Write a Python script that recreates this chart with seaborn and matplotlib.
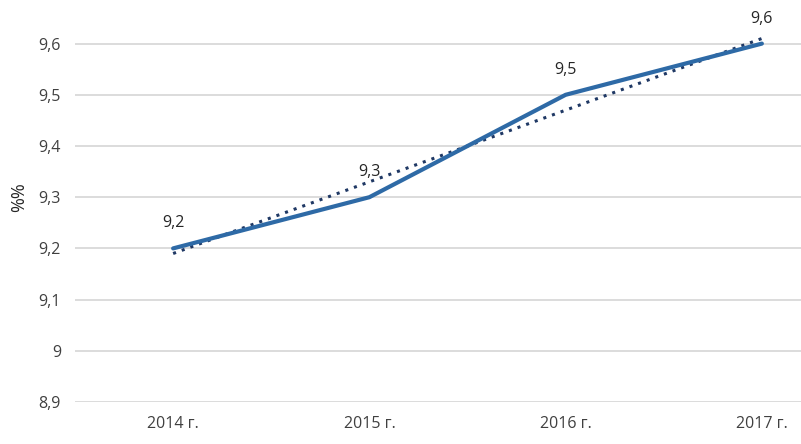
import numpy as np
import pandas as pd
import matplotlib
matplotlib.use("Agg")
import matplotlib.pyplot as plt
import seaborn as sns

years = ["2014 г.", "2015 г.", "2016 г.", "2017 г."]
values = [9.2, 9.3, 9.5, 9.6]
labels = ["9,2", "9,3", "9,5", "9,6"]
yticks = [8.9, 9.0, 9.1, 9.2, 9.3, 9.4, 9.5, 9.6, 9.7]
ytick_labels = ["8,9", "9", "9,1", "9,2", "9,3", "9,4", "9,5", "9,6", "9,7"]

sns.set_theme(style="white")
plt.rcParams['font.family'] = ['Open Sans', 'DejaVu Sans']

df = pd.DataFrame({"year": years, "value": values, "x": np.arange(len(years))})

fig = plt.figure(figsize=(8.01, 4.44), dpi=100)
ax = fig.add_axes([75/801, 1 - 402/444, 785/801, (402 + 7.6)/444])

for t in yticks:
    ax.axhline(t, color="#d9d9d9", lw=1.3, zorder=0)

# trend line (linear fit)
coef = np.polyfit(df["x"], df["value"], 1)
tx = np.array([0, 3])
ax.plot(tx, np.polyval(coef, tx), color="#1f3864", lw=2.2, ls=(0, (1, 2)), zorder=2)

sns.lineplot(data=df, x="x", y="value", ax=ax, color="#2e6aa6", lw=3, zorder=3)

for xi, v, lab in zip(df["x"], values, labels):
    ax.annotate(lab, (xi, v), xytext=(0, 25), textcoords="offset pixels",
                ha="center", va="center", fontsize=11.5, color="#262626")

ax.set_xlim(-0.5, 3.5)
ax.set_ylim(8.9, 9.7)
ax.set_xticks(range(len(years)))
ax.set_xticklabels(years)
ax.set_yticks(yticks)
ax.set_yticklabels(ytick_labels)
ax.tick_params(axis="both", length=0, labelsize=11.5, labelcolor="#404040")
ax.tick_params(axis="y", pad=10)
ax.tick_params(axis="x", pad=10)
ax.set_xlabel("")
ax.set_ylabel("%%", fontsize=13, color="#262626", labelpad=8)
for s in ax.spines.values():
    s.set_visible(False)
ax.patch.set_alpha(0)

fig.savefig("out.png", dpi=100)
